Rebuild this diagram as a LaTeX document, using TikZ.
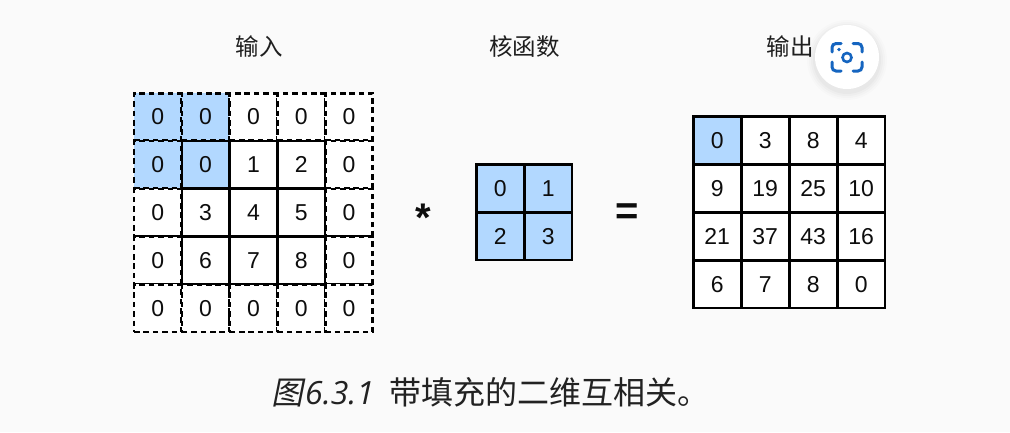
\documentclass[tikz,border=0pt]{standalone}
\usepackage{fontspec}
\setmainfont{Liberation Sans}
\newfontfamily\cjk{Noto Sans CJK SC}
\newfontfamily\cjkit[FakeSlant=0.2]{Noto Sans CJK SC}
\newfontfamily\capit{Open Sans Italic}
\definecolor{bgc}{HTML}{FAFAFA}
\definecolor{cellblue}{HTML}{B2D8FF}
\definecolor{icon}{HTML}{1565C0}
\definecolor{captxt}{HTML}{222222}
\tikzset{
  x=1pt,y=-1pt,
  cell/.style={minimum size=47.5pt,inner sep=0pt,outer sep=0pt,font=\fontsize{23}{23}\selectfont,text=black!95},
  solidcell/.style={cell,draw=black,line width=2.5pt},
  dashcell/.style={cell,draw=black,line width=2.6pt,dash pattern=on 5.6pt off 3.8pt},
  blue/.style={fill=cellblue},
  whitec/.style={fill=white},
  heading/.style={font=\cjk\fontsize{23.5}{24}\selectfont,text=black!88},
  opsym/.style={font=\bfseries\fontsize{40}{40}\selectfont,text=black!95,inner sep=0pt},
  caption/.style={text=captxt,inner sep=0pt,anchor=base west},
}
\begin{document}
\begin{tikzpicture}
\useasboundingbox (0,0) rectangle (1010,432);
\fill[bgc] (0,0) rectangle (1010,432);
% headings
\node[heading] (hin) at (259,47) {输入};
\node[heading] (hker) at (524.5,47) {核函数};
\node[heading] (hout) at (790,47) {输出};
% input: dashed padding ring
\foreach \r/\c/\v/\s in {0/0/0/blue,0/1/0/blue,0/2/0/whitec,0/3/0/whitec,0/4/0/whitec,
  1/0/0/blue,1/4/0/whitec,2/0/0/whitec,2/4/0/whitec,3/0/0/whitec,3/4/0/whitec,
  4/0/0/whitec,4/1/0/whitec,4/2/0/whitec,4/3/0/whitec,4/4/0/whitec}
  \node[dashcell,\s] (i\r\c) at ({157.8+47.8*\c},{117+47.8*\r}) {\v};
% input: solid core
\foreach \r/\c/\v/\s in {1/1/0/blue,1/2/1/whitec,1/3/2/whitec,2/1/3/whitec,2/2/4/whitec,2/3/5/whitec,3/1/6/whitec,3/2/7/whitec,3/3/8/whitec}
  \node[solidcell,\s] (i\r\c) at ({157.8+47.8*\c},{117+47.8*\r}) {\v};
% operator
\node[opsym] (star) at (423.5,217.5) {*};
% kernel
\foreach \r/\c/\v in {0/0/0,0/1/1,1/0/2,1/1/3}
  \node[solidcell,blue] (k\r\c) at ({500.2+48*\c},{188.1+48*\r}) {\v};
\node[opsym] (eq) at (627.5,214) {=};
% output
\foreach \r/\c/\v/\s in {0/0/0/blue,0/1/3/whitec,0/2/8/whitec,0/3/4/whitec,
  1/0/9/whitec,1/1/19/whitec,1/2/25/whitec,1/3/10/whitec,
  2/0/21/whitec,2/1/37/whitec,2/2/43/whitec,2/3/16/whitec,
  3/0/6/whitec,3/1/7/whitec,3/2/8/whitec,3/3/0/whitec}
  \node[solidcell,\s] (o\r\c) at ({717.2+48*\c},{140.1+48*\r}) {\v};
% caption
\node[caption,font=\fontsize{32}{32}\selectfont] (cap) at (271,404) {{\cjkit 图}\hspace{2pt}{\capit 6.3.1}\hspace{15pt}{\cjk 带填充的二维互相关。}};
% floating button
\foreach \rr/\op in {40/.012,38/.015,36/.02,34/.025}
  \fill[black,opacity=\op] (847,60) circle (\rr);
\fill[white] (847,57) circle (32);
\begin{scope}[icon,line width=3pt,line cap=round,rounded corners=4pt]
  \draw (832,52) -- (832,43.5) -- (841,43.5);
  \draw (853,43.5) -- (862,43.5) -- (862,52);
  \draw (862,62) -- (862,71) -- (853,71);
  \draw (841,71) -- (832,71) -- (832,62);
\end{scope}
\draw[icon,line width=2.6pt] (847,57.5) circle (4.5);
\fill[icon] (839,49.5) circle (1.8);
\end{tikzpicture}
\end{document}
